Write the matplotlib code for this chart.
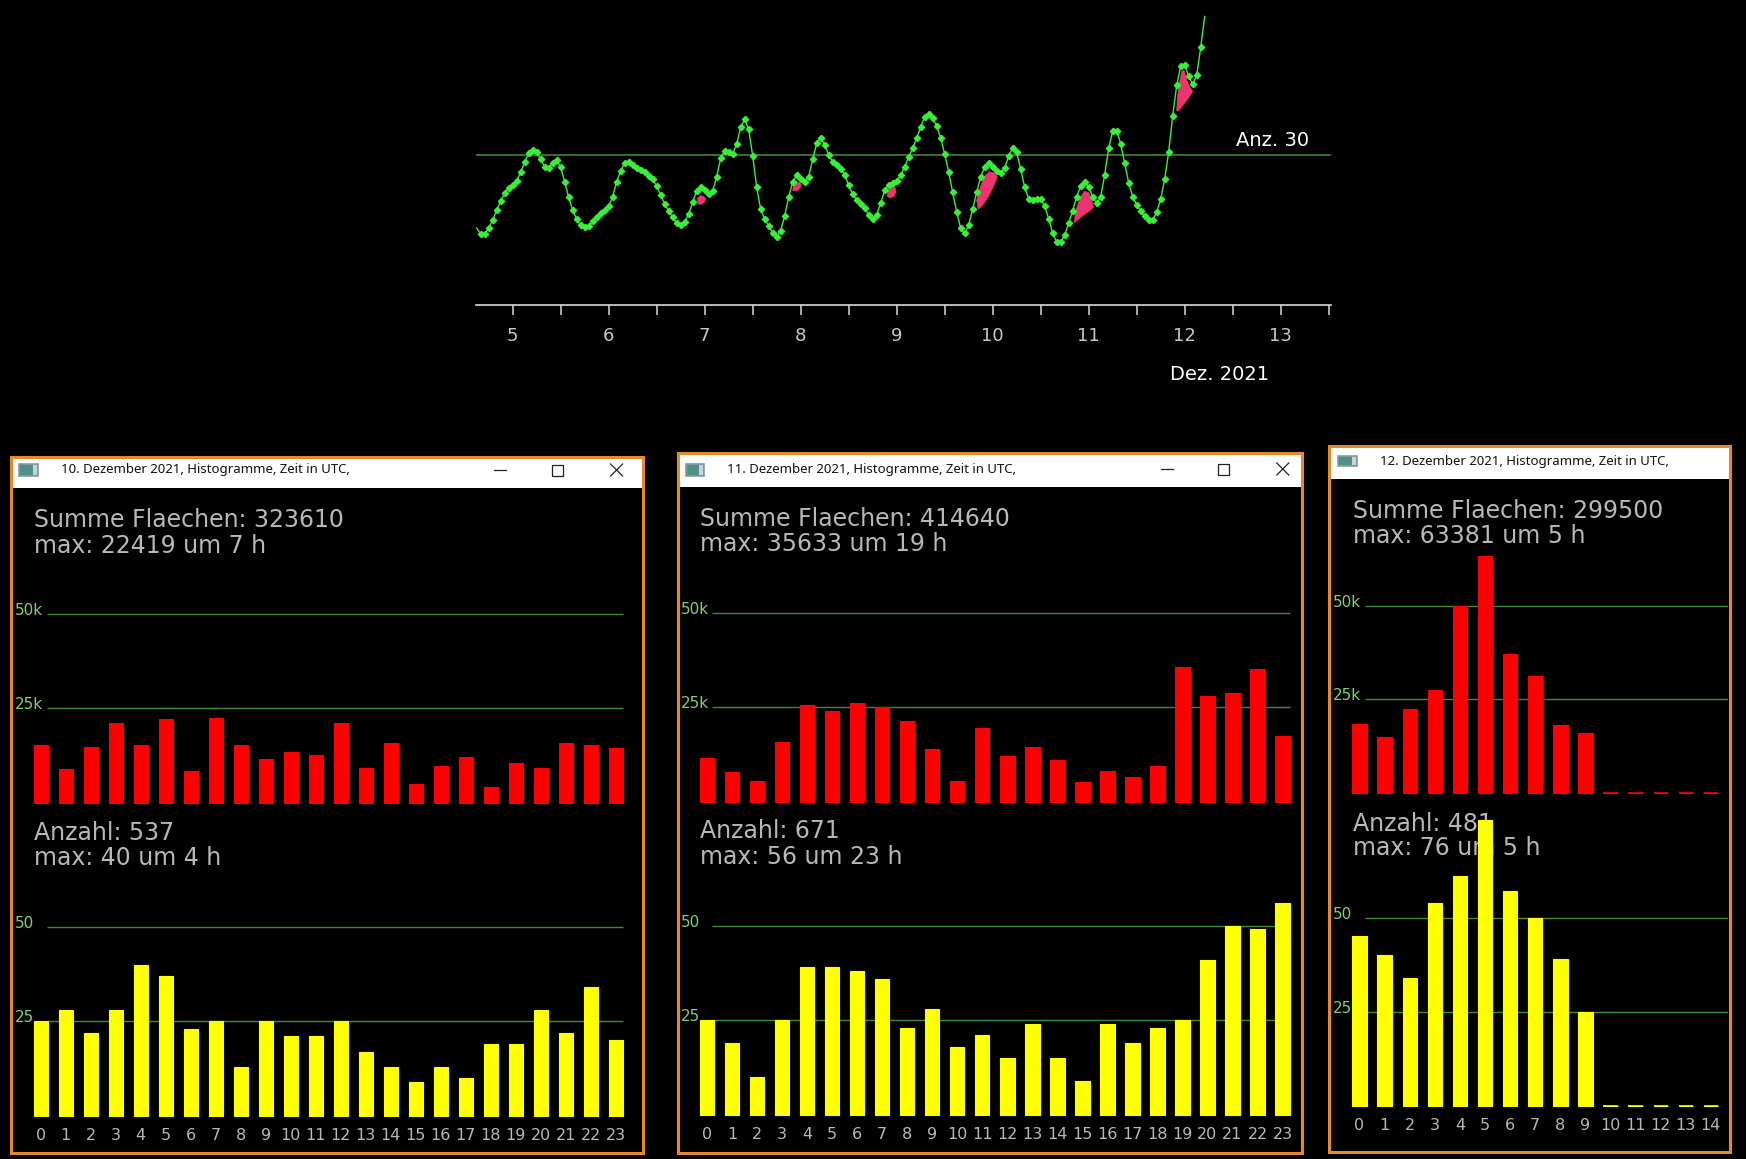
import numpy as np
import matplotlib
matplotlib.use("Agg")
import matplotlib.pyplot as plt
from matplotlib.patches import Rectangle
from matplotlib.lines import Line2D

W, H = 1746, 1159

# ---- top chart: hourly count, first value at 4 Dec 15:00
first_hour = 4 + 15 / 24
anzahl = [15.4,
          14.2, 14.2, 15.4, 17.0, 19.0, 20.8, 22.4, 23.4, 24.0, 24.9,
          26.6, 28.6, 30.4, 31.1, 30.6, 29.2, 27.7, 27.4, 28.5, 29.0,
          27.6, 24.7, 21.6, 19.0, 17.2, 16.0, 15.6, 15.9, 16.8, 17.7,
          18.4, 19.0, 19.8, 21.7, 24.7, 26.9, 28.4, 28.7, 28.1, 27.5,
          27.1, 26.7, 25.9, 25.2, 23.8, 22.0, 20.3, 18.8, 17.6, 16.4,
          16.0, 16.7, 18.2, 20.6, 22.9, 23.6, 23.0, 22.2, 22.8, 25.7,
          29.4, 30.9, 30.6, 30.3, 32.3, 35.6, 37.2, 35.2, 29.9, 23.6,
          19.2, 17.2, 15.9,
          14.4, 13.7, 14.9, 17.9, 21.6, 24.7, 26.0, 25.3, 24.6, 25.7,
          29.2, 32.4, 33.5, 32.1, 30.1, 28.7, 28.0, 27.3, 26.1, 24.0,
          22.2, 21.0, 20.2, 19.4, 18.0, 17.2, 18.1, 20.4, 23.0, 24.0,
          24.4, 24.9, 26.0, 27.7, 29.6, 31.4, 33.4, 35.7, 37.7, 38.3,
          37.4, 35.9, 33.4, 30.3, 26.6, 22.6, 18.6, 15.4, 14.4, 16.0,
          19.2, 22.6, 25.6, 27.7, 28.4, 27.7, 26.9, 26.5, 27.4, 29.9,
          31.5, 30.6, 27.2, 23.6, 21.3, 21.0, 21.2, 21.2, 19.8, 17.3,
          14.4, 12.6,
          12.6, 14.0, 16.4, 18.9, 21.7, 23.8, 24.7, 23.7, 21.6, 20.4,
          21.6, 26.1, 31.4, 34.9, 34.9, 32.3, 28.4, 24.5, 21.7, 20.0,
          18.9, 17.8, 17.0, 17.0, 18.6, 21.2, 25.2, 30.7, 37.9, 44.0,
          47.8, 48.1, 45.8, 44.2, 46.0, 51.6, 57.8]
hours = first_hour + np.arange(len(anzahl)) / 24

# pink areas (day, value outlines)
blob_days = [
    [6.930, 6.927, 6.951, 6.986, 7.010, 6.999, 6.969],
    [7.917, 7.923, 7.951, 7.986, 8.007, 7.993, 7.958],
    [8.902, 8.913, 8.948, 8.982, 8.993, 8.972, 8.937],
    [9.850, 9.833, 9.868, 9.910, 9.965, 10.024, 10.048, 10.007, 9.954, 9.896],
    [10.847, 10.868, 10.910, 10.954, 11.000, 11.031, 11.048, 11.014, 10.944, 10.875],
    [11.917, 11.923, 11.944, 11.969, 11.993, 12.021, 12.055, 12.083, 12.048, 11.986, 11.934],
]
blob_vals = [
    [20.2, 21.4, 21.9, 21.8, 21.3, 20.6, 20.2],
    [22.9, 23.8, 24.6, 24.6, 24.1, 23.4, 22.9],
    [21.7, 22.9, 23.7, 23.6, 22.7, 21.8, 21.5],
    [19.2, 21.0, 23.4, 25.7, 26.7, 26.4, 25.6, 23.7, 21.7, 20.0],
    [16.4, 19.0, 21.4, 22.8, 22.5, 21.2, 19.6, 18.9, 18.0, 16.9],
    [38.9, 41.4, 44.4, 46.8, 47.0, 45.1, 43.6, 42.8, 41.7, 40.1, 38.9],
]
day_ticks = [5, 6, 7, 8, 9, 10, 11, 12, 13]

# ---- hourly histograms
flaechen_10 = [15200, 8900, 14700, 21200, 15300, 22100, 8300, 22419, 15200, 11600, 13500, 12600,
               21200, 9300, 15900, 5000, 9600, 12200, 4100, 10600, 9300, 15900, 15200, 14500]
anzahl_10 = [25, 28, 22, 28, 40, 37, 23, 25, 13, 25, 21, 21, 25, 17, 13, 9, 13, 10, 19, 19, 28, 22, 34, 20]
flaechen_11 = [11600, 7800, 5600, 15900, 25700, 24100, 26200, 25000, 21500, 14100, 5600, 19500,
               12000, 14500, 11000, 5200, 8200, 6500, 9500, 35633, 27900, 28800, 35300, 17400]
anzahl_11 = [25, 19, 10, 25, 39, 39, 38, 36, 23, 28, 18, 21, 15, 24, 15, 9, 24, 19, 23, 25, 41, 50, 49, 56]
flaechen_12 = [18400, 14800, 22500, 27500, 50000, 63381, 37100, 31100, 18000, 16000, 0, 0,
               0, 0, 0, 0, 0, 0, 0, 0, 0, 0, 0, 0]
anzahl_12 = [45, 40, 34, 54, 61, 76, 57, 50, 39, 25, 0, 0, 0, 0, 0, 0, 0, 0, 0, 0, 0, 0, 0, 0]

titles = ["10. Dezember 2021, Histogramme, Zeit in UTC,",
          "11. Dezember 2021, Histogramme, Zeit in UTC,",
          "12. Dezember 2021, Histogramme, Zeit in UTC,"]
sum_texts = [("Summe Flaechen: 323610", "max: 22419 um 7 h"),
             ("Summe Flaechen: 414640", "max: 35633 um 19 h"),
             ("Summe Flaechen: 299500", "max: 63381 um 5 h")]
count_texts = [("Anzahl: 537", "max: 40 um 4 h"),
               ("Anzahl: 671", "max: 56 um 23 h"),
               ("Anzahl: 481", "max: 76 um 5 h")]

# window geometry in pixels
panels = [
    dict(box=(10.5, 457.4, 643, 1152.6), bar_bot=488, title=(61, 470), icon=(19, 464, 38, 476),
         buttons=(500, 557.7, 616.6), text_x=34.5, sum_y=(520, 545.6), red_base=802.7, red_25=94.3,
         cnt_y=(832.6, 857.8), yel_base=1115.8, yel_25=94.5, xlab_y=1135.6, c0=40.7, pitch=25.0,
         bw=14, grid=(47, 623), lab_x=15, right=None),
    dict(box=(677.6, 452.9, 1302, 1152.6), bar_bot=487.3, title=(726.8, 469), icon=(686, 464, 704, 476),
         buttons=(1166.6, 1223.9, 1282.8), text_x=700.3, sum_y=(519, 544.2), red_base=801.8, red_25=94.4,
         cnt_y=(831.2, 856.9), yel_base=1115, yel_25=94.7, xlab_y=1134.2, c0=706.9, pitch=25.03,
         bw=14.5, grid=(712, 1289.5), lab_x=680.5, right=None),
    dict(box=(1329.3, 446.3, 1730, 1151.5), bar_bot=478.8, title=(1380, 462), icon=(1338, 455.6, 1357, 466.3),
         buttons=None, text_x=1353.3, sum_y=(511.4, 536), red_base=792.6, red_25=93.4,
         cnt_y=(824.2, 848.4), yel_base=1105.5, yel_25=93.9, xlab_y=1125, c0=1359.5, pitch=25.1,
         bw=14.4, grid=(1365, 1728), lab_x=1333.3, right=1728),
]


def fx(x):
    return x / W


def fy(y):
    return 1 - y / H


def prect(x0, y0, x1, y1, **kw):
    return Rectangle((fx(x0), fy(y1)), (x1 - x0) / W, (y1 - y0) / H, transform=fig.transFigure, **kw)


fig = plt.figure(figsize=(W / 100, H / 100), dpi=100, facecolor="black")

# ---- top chart
ax = fig.add_axes([fx(476), fy(305), 855 / W, 295 / H])
ax.set_facecolor("black")
ax.set_xlim(4.618, 13.524)
ax.set_ylim(0, 59.1)
ax.axhline(30, color="#4e8c3e", lw=1.1, zorder=1)
for d, v in zip(blob_days, blob_vals):
    ax.fill(d, v, color="#ec3470", lw=0.5, zorder=1.5)
ax.plot(hours, anzahl, color="#38f038", lw=1.0, marker="D", ms=3.2,
        markevery=list(range(1, len(anzahl) - 1)), zorder=2)
for s in ["left", "right", "top"]:
    ax.spines[s].set_visible(False)
ax.spines["bottom"].set_color("#d8d8d8")
ax.spines["bottom"].set_linewidth(1.2)
ax.set_yticks([])
ax.set_xticks(day_ticks)
ax.set_xticklabels([str(d) for d in day_ticks])
ax.set_xticks(np.array(day_ticks) + 0.5, minor=True)
ax.tick_params(axis="x", which="both", direction="out", length=7, width=1.1,
               color="#d8d8d8", labelcolor="#c8c8c8", labelsize=13, pad=9)
fig.text(fx(1236), fy(141), "Anz. 30", color="white", fontsize=14, va="center", ha="left")
fig.text(fx(1170), fy(375), "Dez. 2021", color="white", fontsize=14, va="center", ha="left")

# ---- histogram windows
gray = "#b8b8b8"
green_txt = "#80cf70"
grid_col = "#3f8a36"
data = [(flaechen_10, anzahl_10), (flaechen_11, anzahl_11), (flaechen_12, anzahl_12)]

for p, (red, yel), title, st, ct in zip(panels, data, titles, sum_texts, count_texts):
    x0, y0, x1, y1 = p["box"]
    fig.add_artist(prect(x0 + 1.5, y0 + 1, x1 - 1.5, p["bar_bot"], facecolor="white", edgecolor="none", zorder=1))
    fig.add_artist(prect(x0, y0, x1, y1, facecolor="none", edgecolor="#e58a2c", lw=2.2, zorder=1.2))
    ix0, iy0, ix1, iy1 = p["icon"]
    fig.add_artist(prect(ix0, iy0, ix1, iy1, facecolor="#4f8f86", edgecolor="#8a9aa6", lw=1.2, zorder=1.3))
    fig.add_artist(prect(ix1 - 5, iy0 + 1, ix1 - 1, iy1 - 1, facecolor="#c8d2dc", edgecolor="none", zorder=1.4))
    tx, ty = p["title"]
    fig.text(fx(tx), fy(ty), title, fontsize=9.5, family="Noto Sans", color="#111111",
             va="center", ha="left", zorder=2)
    if p["buttons"]:
        bmin, bmax, bclose = p["buttons"]
        by = ty
        fig.add_artist(Line2D([fx(bmin - 6), fx(bmin + 6)], [fy(by), fy(by)], color="#222222", lw=0.9,
                              transform=fig.transFigure, zorder=2))
        fig.add_artist(prect(bmax - 5.5, by - 5.5, bmax + 5.5, by + 5.5, facecolor="none",
                             edgecolor="#222222", lw=0.9, zorder=2))
        for sgn in (1, -1):
            fig.add_artist(Line2D([fx(bclose - 6), fx(bclose + 6)], [fy(by - 6 * sgn), fy(by + 6 * sgn)],
                                  color="#222222", lw=0.9, transform=fig.transFigure, zorder=2))

    tx = p["text_x"]
    fig.text(fx(tx), fy(p["sum_y"][0]), st[0], color=gray, fontsize=17, va="center", zorder=1.5)
    fig.text(fx(tx), fy(p["sum_y"][1]), st[1], color=gray, fontsize=17, va="center", zorder=1.5)
    fig.text(fx(tx), fy(p["cnt_y"][0]), ct[0], color=gray, fontsize=17, va="center", zorder=1.5)
    fig.text(fx(tx), fy(p["cnt_y"][1]), ct[1], color=gray, fontsize=17, va="center", zorder=1.5)

    c0, pitch = p["c0"], p["pitch"]
    left_px = c0 - pitch / 2
    right_px = p["right"] if p["right"] else c0 + (len(red) - 0.5) * pitch
    xmax = (right_px - c0) / pitch
    gx0, gx1 = [(g - c0) / pitch for g in p["grid"]]
    idx = np.arange(len(red))
    half = p["bw"] / pitch / 2

    for vals, base, px25, top_px, col, unit, labs in [
            (red, p["red_base"], p["red_25"], 540, "#ff0000", 25000, ["25k", "50k"]),
            (yel, p["yel_base"], p["yel_25"], 800, "#ffff00", 25, ["25", "50"])]:
        # axes bottom 3 px below the baseline so empty hours show as dashes
        hax = fig.add_axes([fx(left_px), fy(base + 3), (right_px - left_px) / W, (base + 3 - top_px) / H])
        hax.set_xlim(-0.5, xmax)
        hax.set_ylim(-unit * 3 / px25, unit * (base - top_px) / px25)
        hax.hlines([unit, 2 * unit], gx0, gx1, color=grid_col, lw=1.0, zorder=1)
        hax.bar(idx, vals, width=2 * half, color=col, edgecolor=col, lw=0.8, zorder=2)
        empty = [i for i in idx if vals[i] == 0]
        if empty:
            hax.hlines([0] * len(empty), np.array(empty) - half, np.array(empty) + half,
                       color=col, lw=1.2, zorder=2)
        hax.axis("off")
        hax.set_zorder(3)
        for k, lab in enumerate(labs):
            fig.text(fx(p["lab_x"]), fy(base - (k + 1) * px25 + 1), lab, color=green_txt,
                     fontsize=11, va="baseline", ha="left", zorder=1.5)

    for i in idx:
        cx = c0 + i * pitch
        if cx + 6 < right_px:
            fig.text(fx(cx), fy(p["xlab_y"]), str(i), color=gray, fontsize=11.5,
                     ha="center", va="center", zorder=1.5)

fig.savefig("out.png", dpi=100, facecolor="black")
